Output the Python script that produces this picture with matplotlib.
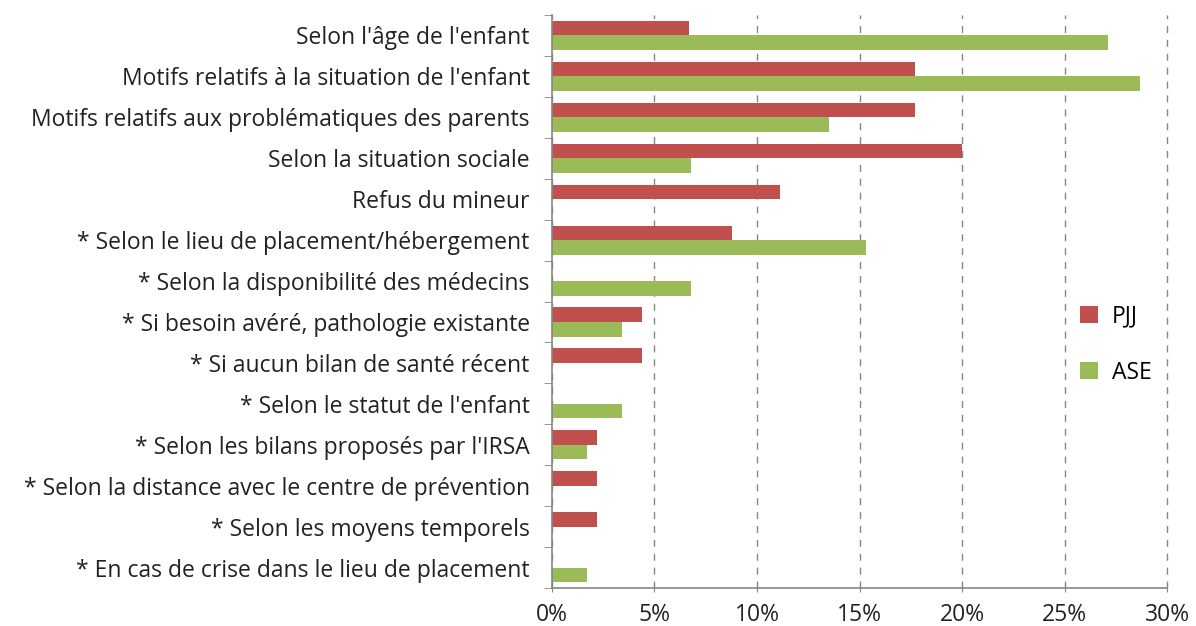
import matplotlib
matplotlib.use("Agg")
import matplotlib.pyplot as plt
import numpy as np

plt.rcParams['font.family'] = ['Open Sans', 'DejaVu Sans']

# categories, top to bottom
categories = [
    "Selon l'âge de l'enfant",
    "Motifs relatifs à la situation de l'enfant",
    "Motifs relatifs aux problématiques des parents",
    "Selon la situation sociale",
    "Refus du mineur",
    "* Selon le lieu de placement/hébergement",
    "* Selon la disponibilité des médecins",
    "* Si besoin avéré, pathologie existante",
    "* Si aucun bilan de santé récent",
    "* Selon le statut de l'enfant",
    "* Selon les bilans proposés par l'IRSA",
    "* Selon la distance avec le centre de prévention",
    "* Selon les moyens temporels",
    "* En cas de crise dans le lieu de placement",
]
pjj = [6.7, 17.7, 17.7, 20.0, 11.1, 8.8, 0, 4.4, 4.4, 0, 2.2, 2.2, 2.2, 0]
ase = [27.1, 28.7, 13.5, 6.8, 0, 15.3, 6.8, 3.4, 0, 3.4, 1.7, 0, 0, 1.7]
xticks = [0, 5, 10, 15, 20, 25, 30]

red = "#C0504D"
green = "#9BBB59"
grey = "#868686"
fs = 16.5

fig = plt.figure(figsize=(11.96, 6.26), dpi=100)
ax = fig.add_axes([0.4615, 0.0607, 0.5143, 0.9153])

y = np.arange(len(categories))
h = 0.355
ax.barh(y - h / 2, pjj, height=h, color=red, label="PJJ", zorder=3)
ax.barh(y + h / 2, ase, height=h, color=green, label="ASE", zorder=3)

ax.set_ylim(len(categories) - 0.5, -0.5)
ax.set_xlim(0, 30)
ax.set_xticks(xticks)
ax.set_xticklabels([f"{t}%" for t in xticks], fontsize=fs, color="#222222")
ax.set_yticks(y)
ax.set_yticklabels(categories, fontsize=fs, color="#222222")
ax.set_yticks(np.arange(len(categories) + 1) - 0.5, minor=True)
ax.tick_params(axis='y', which='major', length=0, pad=16)
ax.tick_params(axis='y', which='minor', length=6, color=grey, direction='out')
ax.tick_params(axis='x', length=6, color=grey, direction='inout', pad=8)

ax.grid(axis='x', linestyle=(0, (5, 5)), color=grey, linewidth=1, zorder=0)
for line in ax.get_xgridlines():
    line.set_clip_on(False)
for s in ['top', 'right']:
    ax.spines[s].set_visible(False)
for s in ['left', 'bottom']:
    ax.spines[s].set_color(grey)
    ax.spines[s].set_linewidth(1.2)
ax.spines['left'].set_zorder(4)

ax.legend(loc='center left', bbox_to_anchor=(0.825, 0.425), frameon=False,
          fontsize=fs, handlelength=0.8, handleheight=0.8,
          labelspacing=1.4, handletextpad=0.6)

fig.savefig("out.png", dpi=100)
